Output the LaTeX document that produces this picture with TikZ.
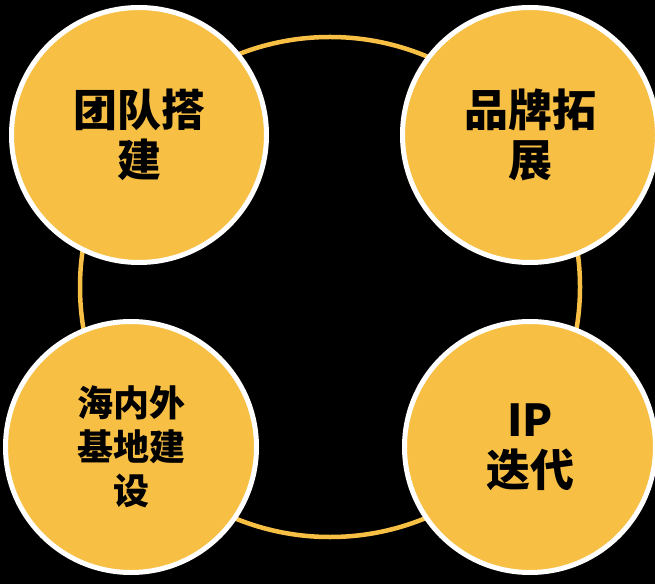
\documentclass[tikz,border=0pt]{standalone}
\usepackage{fontspec}
\newfontfamily\cjk{Noto Sans CJK SC}
\definecolor{gold}{HTML}{F8BF45}
\begin{document}
\begin{tikzpicture}[x=1pt,y=1pt,
  ball/.style={circle,fill=gold,draw=white,line width=5pt,minimum size=255pt,inner sep=0pt,
    align=center,text=black},
  bigtxt/.style={font=\cjk\bfseries\fontsize{44}{50}\selectfont},
  smalltxt/.style={font=\cjk\bfseries\fontsize{36}{44}\selectfont}]
\fill[black] (0,0) rectangle (655,584);
\useasboundingbox (0,0) rectangle (655,584);
\draw[gold,line width=4.5pt] (330,297) circle (250);
\node[ball,bigtxt] (a) at (139,449) {团队搭\\建};
\node[ball,bigtxt] (b) at (530,449) {品牌拓\\展};
\node[ball,smalltxt,minimum size=251pt] (c) at (131,137) {海内外\\基地建\\设};
\node[ball,bigtxt,minimum size=251pt] (d) at (530,137) {IP\\迭代};
\end{tikzpicture}
\end{document}
